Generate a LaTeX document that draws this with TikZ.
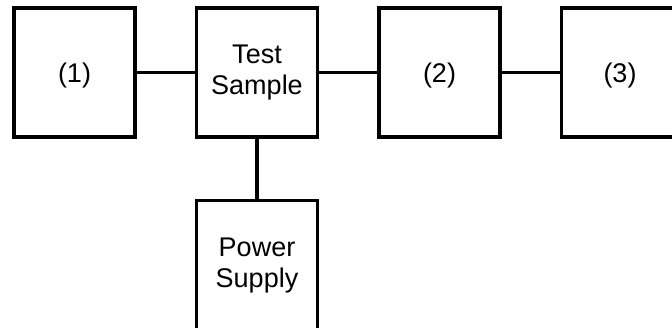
\documentclass[tikz,border=0pt]{standalone}
\usepackage{fontspec}
\setmainfont{Liberation Sans}
\tikzset{
  blk/.style={draw=black, line width=3.2pt, minimum width=121pt, minimum height=129pt, inner sep=0pt, align=center,
    font=\fontsize{27}{31}\selectfont},
  lbl/.style={inner sep=0pt, font=\fontsize{27}{31}\selectfont},
  wire/.style={draw=black, line width=3.2pt}
}
\begin{document}
\begin{tikzpicture}[x=1pt,y=1pt]
\useasboundingbox (0,0) rectangle (672,327);
\clip (0,0) rectangle (672,327);
\node[blk] (b1) at (74.5,254.5) {};
\node[blk] (ts) at (257,254.5) {Test\\Sample};
\node[blk] (b2) at (439.5,254.5) {};
\node[blk] (b3) at (622,254.5) {};
\node[blk] (ps) at (257,61.8) {Power\\Supply};
\node[lbl, anchor=base] (t1) at (74.5,244) {(1)};
\node[lbl, anchor=base] (t2) at (439.5,244) {(2)};
\node[lbl, anchor=base] (t3) at (620,244) {(3)};
\draw[wire] (b1.east) -- (ts.west);
\draw[wire] (ts.east) -- (b2.west);
\draw[wire] (b2.east) -- (b3.west);
\draw[wire] (ts.south) -- (ps.north);
\end{tikzpicture}
\end{document}
